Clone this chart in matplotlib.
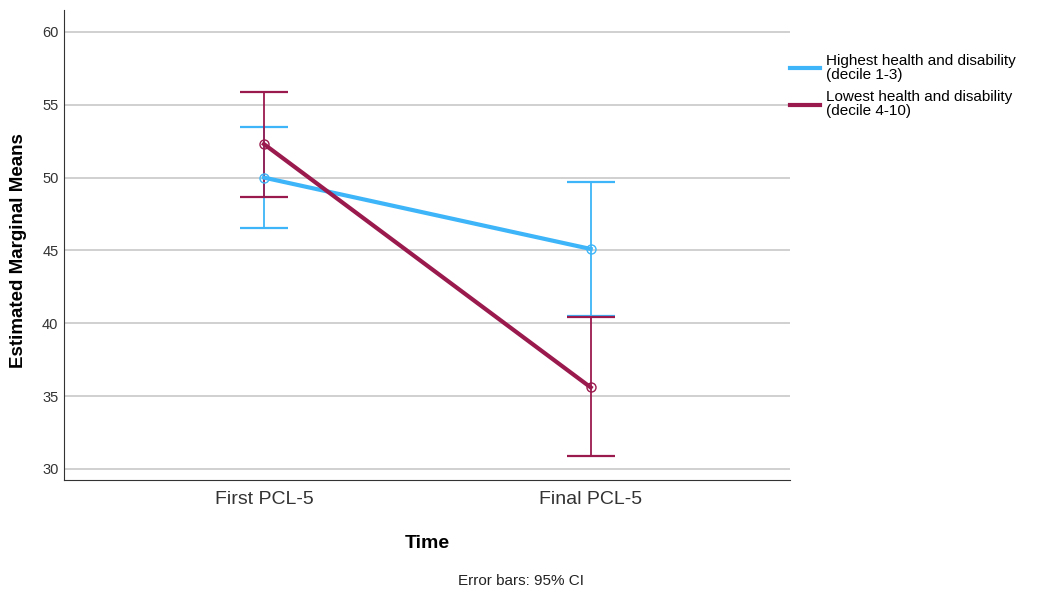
import numpy as np
import matplotlib
matplotlib.use('Agg')
from matplotlib import pyplot as plt

# Estimated marginal means with 95% CI
time_labels = ['First PCL-5', 'Final PCL-5']
high_means = [50.0, 45.1]
high_lower = [46.55, 40.5]
high_upper = [53.5, 49.7]
low_means = [52.3, 35.6]
low_lower = [48.7, 30.9]
low_upper = [55.9, 40.45]
series_names = ['Highest health and disability\n(decile 1-3)',
                'Lowest health and disability\n(decile 4-10)']
colors = ['#3db5f8', '#9a1a4e']

plt.rcParams['font.family'] = ['Liberation Sans', 'DejaVu Sans']

fig = plt.figure(figsize=(10.39, 5.91), dpi=100)
ax = fig.add_axes([0.0616, 0.188, 0.6984, 0.795])

x = np.arange(len(time_labels))
for means, lo, hi, col, name in [(high_means, high_lower, high_upper, colors[0], series_names[0]),
                                 (low_means, low_lower, low_upper, colors[1], series_names[1])]:
    means = np.array(means)
    yerr = [means - np.array(lo), np.array(hi) - means]
    ax.errorbar(x, means, yerr=yerr, fmt='none', ecolor=col, elinewidth=1.3,
                capsize=17, capthick=1.6, zorder=3)
    ax.plot(x, means, color=col, linewidth=3, label=name, zorder=4)
    ax.plot(x, means, linestyle='none', marker='o', markersize=6.5,
            markerfacecolor='none', markeredgecolor=col, markeredgewidth=1.0, zorder=5)

ax.set_xlim(-0.612, 1.609)
ax.set_ylim(29.25, 61.5)
ax.set_yticks([30, 35, 40, 45, 50, 55, 60])
ax.set_xticks(x)
ax.set_xticklabels(time_labels)
ax.yaxis.grid(True, color='#c8c8c8', linewidth=1.2)
ax.set_axisbelow(True)
ax.tick_params(axis='y', length=0, labelsize=10.5, labelcolor='#333333', pad=4)
ax.tick_params(axis='x', length=0, labelsize=14, labelcolor='#333333', pad=8)
for side in ['top', 'right']:
    ax.spines[side].set_visible(False)
ax.spines['left'].set_color('#333333')
ax.spines['bottom'].set_color('#333333')

ax.set_ylabel('Estimated Marginal Means', fontsize=13.5, fontweight='bold', va='center')
ax.yaxis.set_label_coords(-0.063, 0.489)
ax.set_xlabel('Time', fontsize=14, fontweight='bold', va='center')
ax.xaxis.set_label_coords(0.501, -0.135)
fig.text(0.5015, 0.0169, 'Error bars: 95% CI', fontsize=11, ha='center', va='center', color='#222222')

leg = ax.legend(loc='upper left', bbox_to_anchor=(0.7603, 0.9086), bbox_transform=fig.transFigure,
                frameon=False, fontsize=11, handlelength=1.96, handletextpad=0.4,
                labelspacing=0.55, borderaxespad=0, borderpad=0)
for t in leg.get_texts():
    t.set_linespacing(1.0)

fig.savefig('out.png', dpi=100)
